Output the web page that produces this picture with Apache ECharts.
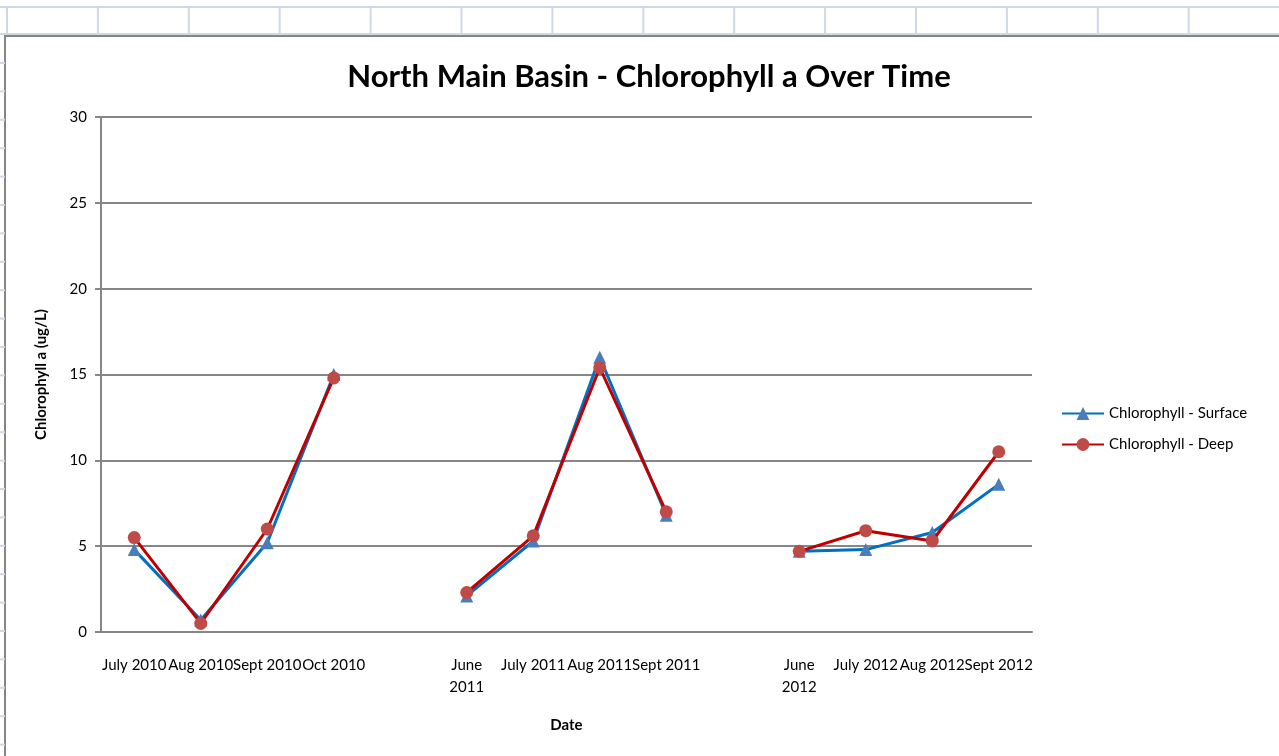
<!DOCTYPE html>
<html lang="en">
<head>
  <meta charset="UTF-8">
  <title>North Main Basin - Chlorophyll a</title>
  <script src="https://cdn.jsdelivr.net/npm/echarts@6/dist/echarts.min.js"></script>
  <style>
    html, body { margin: 0; padding: 0; background: #fff; }
    #chart { width: 1279px; height: 756px; }
  </style>
</head>
<body>
<div id="chart"></div>
<script>
  // Datos (las fechas vacias son huecos entre temporadas)
  var months = ['July 2010', 'Aug 2010', 'Sept 2010', 'Oct 2010', '',
                'June\n2011', 'July 2011', 'Aug 2011', 'Sept 2011', '',
                'June\n2012', 'July 2012', 'Aug 2012', 'Sept 2012'];
  var surface = [4.8, 0.7, 5.2, 15.0, null, 2.1, 5.3, 16.0, 6.8, null, 4.7, 4.8, 5.8, 8.6];
  var deep = [5.5, 0.5, 6.0, 14.8, null, 2.3, 5.6, 15.4, 7.0, null, 4.7, 5.9, 5.3, 10.5];
  var yTicks = [0, 5, 10, 15, 20, 25, 30];

  var chart = echarts.init(document.getElementById('chart'));
  var font = 'Lato, "Liberation Sans", sans-serif';
  var gridGray = '#868686';
  var cellLine = '#D0D7E5';

  // fondo tipo hoja de calculo
  var deco = [];
  deco.push({ type: 'line', shape: { x1: 0, y1: 7, x2: 1279, y2: 7 }, style: { stroke: cellLine, lineWidth: 2 } });
  deco.push({ type: 'line', shape: { x1: 0, y1: 34, x2: 1279, y2: 34 }, style: { stroke: cellLine, lineWidth: 2 } });
  for (var x = 7; x < 1279; x += 90.9) {
    deco.push({ type: 'line', shape: { x1: x, y1: 7, x2: x, y2: 34 }, style: { stroke: cellLine, lineWidth: 2 } });
  }
  for (var y = 63; y < 756; y += 28.4) {
    deco.push({ type: 'line', shape: { x1: 0, y1: y, x2: 5, y2: y }, style: { stroke: cellLine, lineWidth: 2 } });
  }
  deco.push({ type: 'rect', shape: { x: 5, y: 36, width: 1300, height: 760 },
              style: { fill: '#fff', stroke: gridGray, lineWidth: 2 }, z: -1 });

  var option = {
    backgroundColor: '#fff',
    graphic: deco,
    title: {
      text: 'North Main Basin - Chlorophyll a Over Time',
      left: 644, top: 56, textAlign: 'center',
      textStyle: { fontFamily: font, fontSize: 31, fontWeight: 'bold', color: '#000' }
    },
    legend: {
      orient: 'vertical', left: 1056, top: 401,
      itemWidth: 42, itemHeight: 16, itemGap: 16,
      textStyle: { fontFamily: font, fontSize: 15, color: '#000' },
      data: ['Chlorophyll - Surface', 'Chlorophyll - Deep']
    },
    grid: { left: 101, right: 247, top: 117, bottom: 124 },
    xAxis: {
      type: 'category',
      data: months,
      boundaryGap: true,
      name: 'Date', nameLocation: 'middle', nameGap: 86,
      nameTextStyle: { fontFamily: font, fontSize: 15, fontWeight: 'bold', color: '#000' },
      axisLine: { lineStyle: { color: gridGray, width: 2 } },
      axisTick: { alignWithLabel: false, interval: 0, length: 6, lineStyle: { color: gridGray, width: 2 } },
      axisLabel: { interval: 0, margin: 22, fontFamily: font, fontSize: 15, color: '#000', lineHeight: 22 }
    },
    yAxis: {
      type: 'value',
      min: yTicks[0], max: yTicks[yTicks.length - 1], interval: 5,
      name: 'Chlorophyll a (ug/L)', nameLocation: 'middle', nameGap: 52,
      nameTextStyle: { fontFamily: font, fontSize: 15, fontWeight: 'bold', color: '#000' },
      axisLine: { show: true, lineStyle: { color: gridGray, width: 2 } },
      axisTick: { show: true, length: 6, lineStyle: { color: gridGray, width: 2 } },
      axisLabel: { margin: 14, fontFamily: font, fontSize: 15, color: '#000' },
      splitLine: { lineStyle: { color: gridGray, width: 2 } }
    },
    series: [
      {
        name: 'Chlorophyll - Surface',
        type: 'line',
        data: surface,
        symbol: 'triangle', symbolSize: 13,
        itemStyle: { color: '#4A7EBB' },
        lineStyle: { color: '#0070C0', width: 3 },
        z: 2
      },
      {
        name: 'Chlorophyll - Deep',
        type: 'line',
        data: deep,
        symbol: 'circle', symbolSize: 13,
        itemStyle: { color: '#BE4B48' },
        lineStyle: { color: '#C00000', width: 3 },
        z: 3
      }
    ]
  };

  chart.setOption(option);
</script>
</body>
</html>
